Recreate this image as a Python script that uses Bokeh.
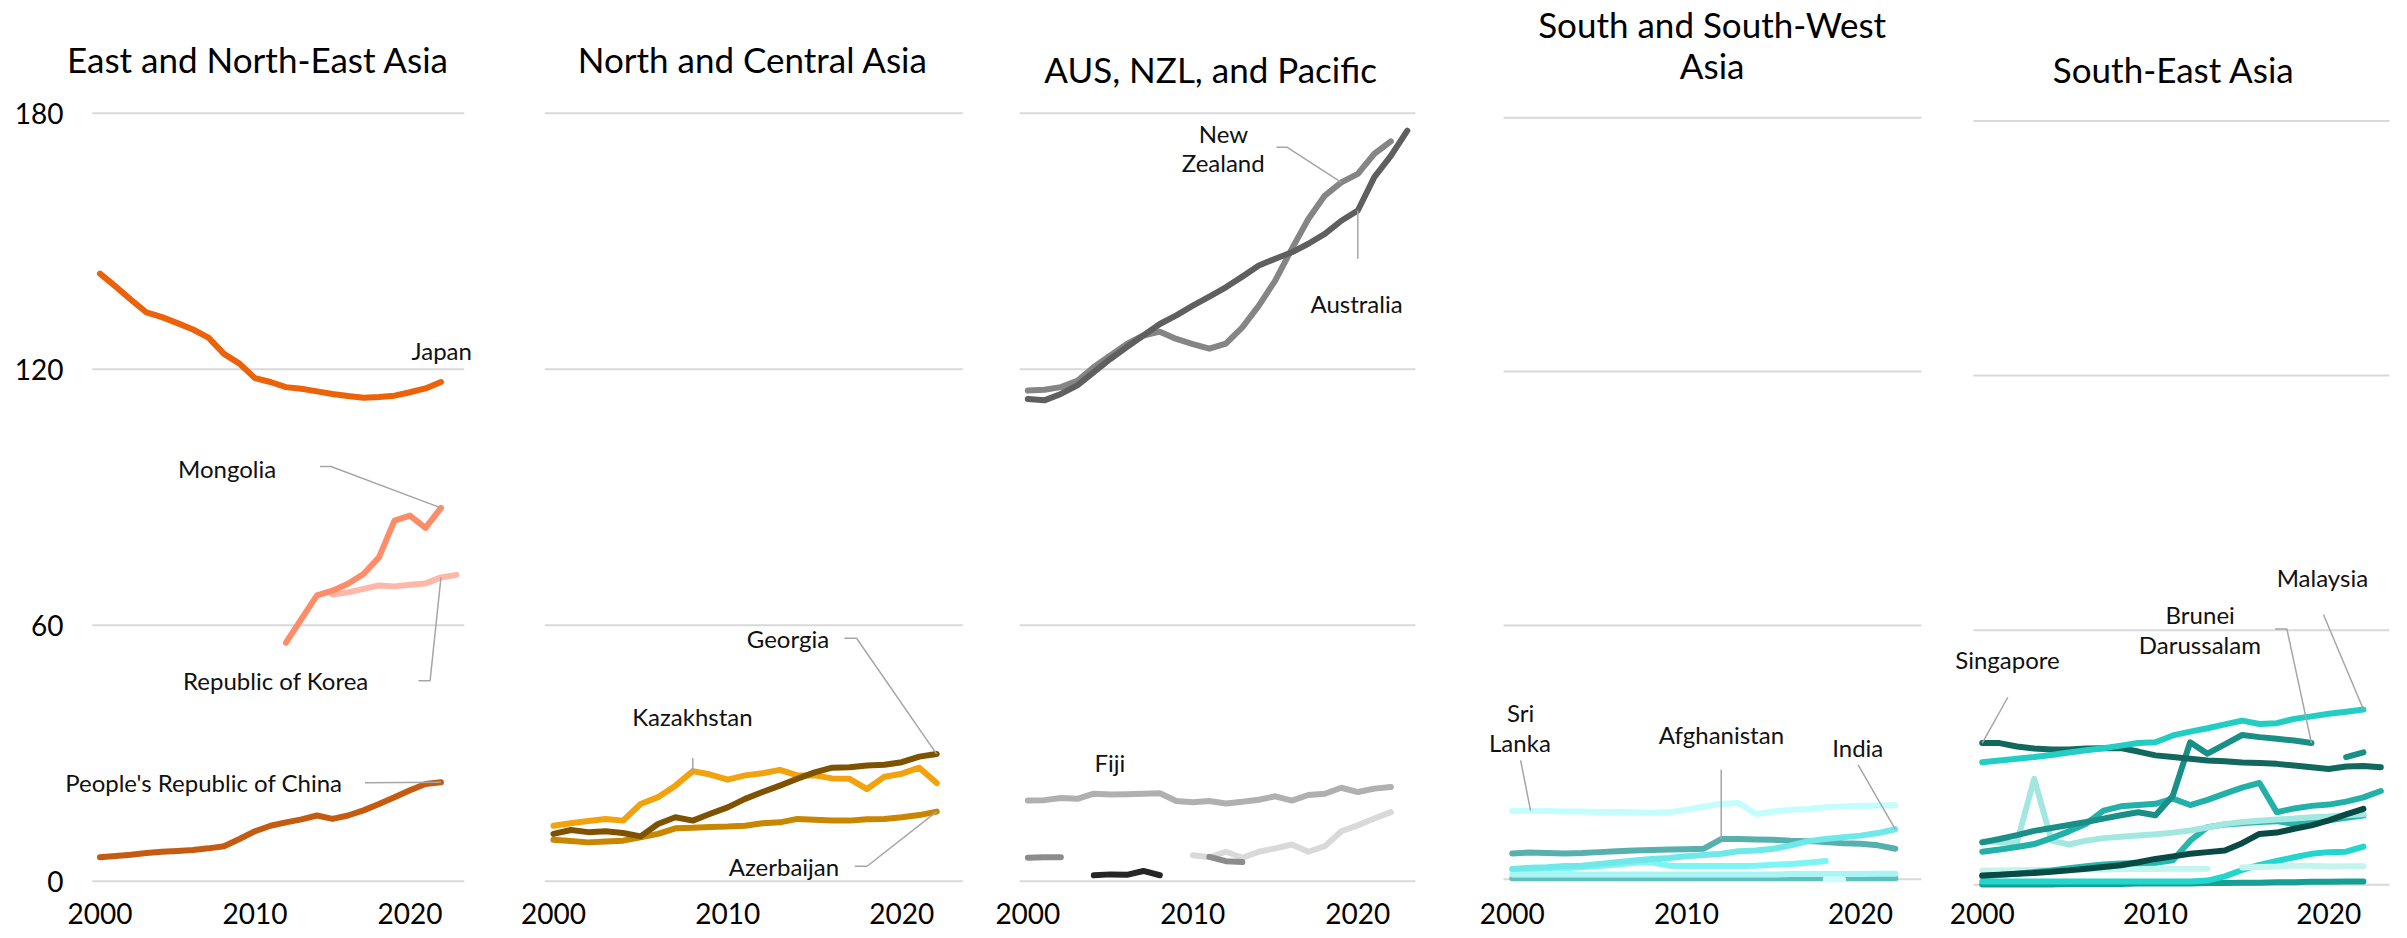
import math
from bokeh.plotting import figure
from bokeh.models import Range1d, FixedTicker, Label
from bokeh.layouts import row
from bokeh.embed import file_html
from bokeh.resources import INLINE

nan = float("nan")
years = list(range(2000, 2024))

# ---------------- data ----------------
# East and North-East Asia
japan = [142.4, 139.4, 136.3, 133.3, 132.2, 130.8, 129.3, 127.4, 123.6, 121.3, 117.9, 117.0,
         115.8, 115.4, 114.8, 114.2, 113.7, 113.3, 113.5, 113.8, 114.6, 115.5, 117.0, nan]
china = [5.6, 5.9, 6.2, 6.6, 6.9, 7.1, 7.3, 7.7, 8.2, 9.9, 11.7, 13.0, 13.8, 14.5, 15.4, 14.6,
         15.4, 16.6, 18.1, 19.7, 21.3, 22.8, 23.2, nan]
mongolia = [nan] * 12 + [55.9, 61.5, 67.0, 68.1, 69.7, 72.0, 75.9, 84.5, 85.7, 82.8, 87.5, nan]
korea = [nan] * 15 + [67.2, 67.7, 68.5, 69.3, 69.1, 69.5, 69.8, 71.2, 71.8]

# North and Central Asia
georgia = [11.1, 12.0, 11.5, 11.7, 11.3, 10.5, 13.4, 15.0, 14.2, 15.8, 17.3, 19.3, 20.9, 22.4,
           24.0, 25.5, 26.6, 26.7, 27.1, 27.3, 27.9, 29.2, 29.8, nan]
kazakhstan = [13.0, 13.6, 14.1, 14.6, 14.2, 18.1, 19.7, 22.4, 25.8, 25.0, 23.8, 24.8, 25.3, 26.1,
              24.8, 24.8, 24.1, 24.0, 21.6, 24.5, 25.2, 26.6, 23.0, nan]
azerbaijan = [9.7, 9.4, 9.1, 9.3, 9.5, 10.3, 11.1, 12.4, 12.5, 12.7, 12.8, 13.0, 13.6, 13.8, 14.6,
              14.4, 14.2, 14.2, 14.5, 14.6, 15.0, 15.5, 16.3, nan]

# AUS, NZL, and Pacific
australia = [113.0, 112.7, 114.2, 116.2, 119.3, 122.4, 125.2, 127.9, 130.6, 132.6, 134.9, 137.0,
             139.2, 141.7, 144.3, 145.9, 147.4, 149.4, 151.7, 154.8, 157.2, 165.0, 170.0, 175.9]
new_zealand = [115.0, 115.2, 115.8, 117.3, 120.5, 123.2, 125.9, 127.9, 128.8, 127.1, 125.9, 124.8,
               126.0, 129.8, 134.9, 140.8, 148.2, 155.2, 160.7, 163.8, 165.8, 170.5, 173.4, nan]
fiji = [18.9, 19.0, 19.5, 19.3, 20.5, 20.3, 20.4, 20.5, 20.6, 18.8, 18.5, 18.8, 18.2, 18.6, 19.1,
        19.9, 18.9, 20.2, 20.5, 21.9, 20.9, 21.7, 22.1, nan]
pacific_a = [5.5, 5.6, 5.6] + [nan] * 8 + [5.7, 4.7, 4.5] + [nan] * 10
pacific_b = [nan] * 4 + [1.4, 1.6, 1.5, 2.4, 1.4] + [nan] * 15
pacific_c = [nan] * 10 + [6.1, 5.6, 6.9, 5.5, 6.9, 7.7, 8.6, 6.9, 8.2, 11.7, 13.1, 14.7, 16.2, nan]

# South and South-West Asia
sri_lanka = [16.1, 16.2, 16.1, 16.0, 16.0, 15.9, 15.9, 15.8, 15.7, 15.8, 16.4, 17.2, 17.8, 18.0,
             15.4, 16.0, 16.4, 16.6, 17.0, 17.2, 17.3, 17.4, 17.5, nan]
afghanistan = [6.1, 6.3, 6.2, 6.1, 6.2, 6.4, 6.6, 6.8, 6.9, 7.0, 7.1, 7.2, 9.5, 9.5, 9.4, 9.3,
               9.1, 9.0, 8.8, 8.5, 8.4, 8.0, 7.2, nan]
india = [2.4, 2.7, 2.8, 3.1, 3.2, 3.6, 4.0, 4.4, 4.8, 5.0, 5.4, 5.7, 6.0, 6.6, 6.8, 7.2, 8.0, 9.0,
         9.5, 9.9, 10.3, 10.9, 11.8, nan]
south_e = [2.4, 2.4, 2.5, 2.6, 2.8, 3.1, 3.5, 3.9, 4.0, 3.2, 3.1, 3.1, 3.1, 3.1, 3.2, 3.4, 3.6,
           3.9, 4.3] + [nan] * 5
south_f = [1.1] * 16 + [1.2, 1.2, 1.2, 1.2, 1.2, 1.3, 1.3, nan]
south_g = [0.2] * 23 + [nan]
south_h = [nan] * 18 + [-0.1, -0.1] + [nan] * 4

# South-East Asia
malaysia = [28.9, 29.3, 29.7, 30.1, 30.6, 31.2, 31.7, 32.2, 32.8, 33.4, 33.6, 35.2, 36.1, 36.9,
            37.8, 38.7, 37.9, 38.1, 39.1, 39.7, 40.3, 40.8, 41.3, nan]
singapore = [33.4, 33.4, 32.6, 32.1, 31.9, 31.9, 32.1, 32.2, 32.2, 31.4, 30.5, 30.1, 29.7, 29.3,
             29.1, 28.8, 28.7, 28.5, 28.1, 27.7, 27.3, 27.9, 28.0, 27.7]
brunei = [10.0, 10.8, 11.7, 12.7, 13.4, 14.1, 14.8, 15.6, 16.4, 17.1, 16.4, 21.0, 33.6, 30.9,
          33.1, 35.3, 34.8, 34.4, 34.0, 33.4, nan, 30.1, 31.2, nan]
sea_d = [7.8, 8.3, 8.9, 9.6, 11.0, 12.6, 14.4, 17.5, 18.5, 18.8, 19.1, 20.3, 18.8, 20.0, 21.5,
         22.9, 24.0, 17.1, 18.0, 18.6, 18.9, 19.6, 20.6, 22.1]
sea_e = [10.2, 10.1, 9.9, 25.0, 10.4, 9.5, 10.4, 11.0, 11.3, 11.6, 11.9, 12.3, 12.8, 13.5, 14.3,
         14.8, 15.1, 15.4, 15.6, 15.9, 16.1, 16.4, 16.6, nan]
sea_f = [2.0, 2.3, 2.6, 3.0, 3.4, 3.9, 4.4, 4.8, 5.0, 5.1, 5.2, 5.8, 10.4, 13.6, 14.2, 14.5, 14.8,
         15.0, 14.3, 14.7, 15.2, 15.8, 16.3, nan]
sea_g = [3.4, 3.4, 3.5, 3.5, 3.5, 3.6, 3.6, 3.6, 3.7, 3.7, 3.7, 3.8, 3.8, 3.8, nan, 4.1, 4.2, 4.3,
         4.5, 4.5, 4.3, 4.4, 4.4, nan]
sea_h = [0.8] * 13 + [1.0, 2.0, 3.5, 4.7, 5.6, 6.5, 7.3, 7.7, 7.8, 9.0, nan]
sea_i = [0.1, 0.1, 0.1, 0.1, 0.1, 0.2, 0.2, 0.2, 0.2, 0.3, 0.3, 0.3, 0.3, 0.4, 0.4, 0.5, 0.5, 0.6,
         0.6, 0.7, 0.7, 0.8, 0.8, nan]
sea_black = [2.2, 2.4, 2.6, 2.8, 3.1, 3.4, 3.8, 4.2, 4.6, 5.3, 6.1, 6.7, 7.3, 7.7, 8.1, 9.8, 12.0,
             12.3, 13.2, 14.0, 15.2, 16.6, 17.9, nan]

panel_titles = ["East and North-East Asia", "North and Central Asia", "AUS, NZL, and Pacific",
                ["South and South-West", "Asia"], "South-East Asia"]
y_ticks = [0, 60, 120, 180]
x_ticks = [2000, 2010, 2020]
grid_span = (1999.5, 2023.5)

FONT = "Lato"
LEADER = "#a6a6a6"
LW = 6


def idx(year):
    return years.index(year)


def make_fig(fw, xr, yr, show_y):
    p = figure(frame_width=fw, frame_height=880,
               x_range=Range1d(*xr), y_range=Range1d(*yr),
               output_backend="svg", toolbar_location=None,
               min_border_left=64 if show_y else 0, min_border_right=0,
               min_border_top=8, min_border_bottom=48)
    p.outline_line_color = None
    p.background_fill_color = "white"
    p.border_fill_color = "white"
    p.xgrid.visible = False
    p.ygrid.visible = False
    # horizontal reference lines at the y ticks
    p.segment(x0=[grid_span[0]] * len(y_ticks), y0=y_ticks,
              x1=[grid_span[1]] * len(y_ticks), y1=y_ticks,
              line_color="#d9d9d9", line_width=2)
    p.xaxis.ticker = FixedTicker(ticks=x_ticks)
    p.xaxis.axis_line_color = None
    p.xaxis.major_tick_line_color = None
    p.xaxis.minor_tick_line_color = None
    p.xaxis.major_tick_out = 0
    p.xaxis.major_tick_in = 0
    p.xaxis.major_label_standoff = 14
    p.xaxis.major_label_text_font = FONT
    p.xaxis.major_label_text_font_size = "28px"
    p.xaxis.major_label_text_color = "#000000"
    if show_y:
        p.yaxis.ticker = FixedTicker(ticks=y_ticks)
        p.yaxis.axis_line_color = None
        p.yaxis.major_tick_line_color = None
        p.yaxis.minor_tick_line_color = None
        p.yaxis.major_tick_out = 0
        p.yaxis.major_tick_in = 0
        p.yaxis.major_label_standoff = 1
        p.yaxis.major_label_text_font = FONT
        p.yaxis.major_label_text_font_size = "28px"
        p.yaxis.major_label_text_color = "#000000"
    else:
        p.yaxis.visible = False
    return p


def series(p, vals, color):
    p.line(years, vals, line_color=color, line_width=LW, line_cap="round", line_join="round")


def label(p, x, y, text, size="24px", align="center"):
    p.add_layout(Label(x=x, y=y, text=text, text_align=align, text_baseline="middle",
                       text_font=FONT, text_font_size=size, text_color="#111111"))


def leader(p, xs, ys):
    p.line(xs, ys, line_color=LEADER, line_width=1.5)


def title(p, x, y, text):
    p.add_layout(Label(x=x, y=y, text=text, text_align="center", text_baseline="middle",
                       text_font=FONT, text_font_size="35px", text_color="#000000"))


# ---------------- Panel 1 ----------------
p1 = make_fig(440, (1997.71, 2026.10), (-1.71, 204.54), True)
series(p1, china, "#c55a11")
series(p1, japan, "#eb6209")
series(p1, korea, "#ffb8a8")
series(p1, mongolia, "#ff8c69")
title(p1, 2010.2, 192.8, panel_titles[0])
label(p1, 2022.05, 124.4, "Japan")
label(p1, 2008.2, 96.7, "Mongolia")
leader(p1, [2014.2, 2014.9, 2022], [97.2, 97.2, mongolia[idx(2022)]])
label(p1, 2011.35, 47.0, "Republic of Korea")
leader(p1, [2020.55, 2021.3, 2022], [47.0, 47.0, korea[idx(2022)]])
label(p1, 2006.7, 23.1, "People's Republic of China")
leader(p1, [2017.1, 2022], [china[idx(2022)] - 0.1, china[idx(2022)]])

# ---------------- Panel 2 ----------------
p2 = make_fig(478, (1997.19, 2024.63), (-1.71, 204.54), False)
series(p2, azerbaijan, "#c98600")
series(p2, kazakhstan, "#f2a20c")
series(p2, georgia, "#7f5200")
title(p2, 2011.45, 192.8, panel_titles[1])
label(p2, 2013.46, 56.9, "Georgia")
leader(p2, [2016.7, 2017.4, 2022], [56.95, 56.95, georgia[idx(2022)]])
label(p2, 2007.98, 38.7, "Kazakhstan")
leader(p2, [2008, 2008], [28.9, kazakhstan[idx(2008)]])
label(p2, 2013.23, 3.5, "Azerbaijan")
leader(p2, [2017.3, 2018.0, 2022], [3.5, 3.5, azerbaijan[idx(2022)]])

# ---------------- Panel 3 ----------------
p3 = make_fig(473, (1997.25, 2025.92), (-1.71, 204.54), False)
series(p3, pacific_c, "#d9d9d9")
series(p3, fiji, "#b0b0b0")
series(p3, pacific_a, "#8c8c8c")
series(p3, pacific_b, "#262626")
series(p3, new_zealand, "#858585")
series(p3, australia, "#5f5f5f")
title(p3, 2011.08, 190.4, panel_titles[2])
label(p3, 2011.86, 175.2, "New")
label(p3, 2011.84, 168.4, "Zealand")
leader(p3, [2015.07, 2015.72, 2019], [172.0, 172.0, new_zealand[idx(2019)]])
label(p3, 2019.92, 135.3, "Australia")
leader(p3, [2020, 2020], [145.9, australia[idx(2020)]])
label(p3, 2004.97, 27.9, "Fiji")

# ---------------- Panel 4 ----------------
p4 = make_fig(486, (1996.74, 2024.65), (-2.20, 205.84), False)
series(p4, south_g, "#5ec0bc")
series(p4, south_f, "#a9f5f5")
series(p4, south_h, "#d2fafa")
series(p4, south_e, "#7ef5f5")
series(p4, afghanistan, "#56b1ae")
series(p4, india, "#6ee8e8")
series(p4, sri_lanka, "#c3fdfd")
title(p4, 2011.48, 202.2, panel_titles[3][0])
title(p4, 2011.48, 192.4, panel_titles[3][1])
label(p4, 2000.48, 39.5, "Sri")
label(p4, 2000.44, 32.4, "Lanka")
leader(p4, [2000.48, 2001.05], [28.1, sri_lanka[idx(2001)]])
label(p4, 2012.01, 34.2, "Afghanistan")
leader(p4, [2012, 2012], [25.9, afghanistan[idx(2012)]])
label(p4, 2019.84, 31.2, "India")
leader(p4, [2019.86, 2022], [27.0, india[idx(2022)]])

# ---------------- Panel 5 ----------------
p5 = make_fig(458, (1997.65, 2024.08), (-0.87, 206.51), False)
series(p5, sea_i, "#15a096")
series(p5, sea_h, "#22d6cd")
series(p5, sea_g, "#c3f5ee")
series(p5, sea_f, "#24b8ae")
series(p5, sea_e, "#a3e8e0")
series(p5, sea_black, "#094a45")
series(p5, sea_d, "#22b1a8")
series(p5, brunei, "#1a8f87")
series(p5, singapore, "#12675f")
series(p5, malaysia, "#22cdc3")
title(p5, 2011.06, 192.3, panel_titles[4])
label(p5, 2001.46, 53.0, "Singapore")
leader(p5, [2001.48, 2000], [44.2, singapore[idx(2000)]])
label(p5, 2012.58, 63.7, "Brunei")
label(p5, 2012.56, 56.6, "Darussalam")
leader(p5, [2016.9, 2017.58, 2019], [60.3, 60.3, brunei[idx(2019)]])
label(p5, 2019.63, 72.5, "Malaysia")
leader(p5, [2019.69, 2022], [63.7, malaysia[idx(2022)]])

layout = row(p1, p2, p3, p4, p5)
open("out.html", "w").write(file_html(layout, INLINE))
